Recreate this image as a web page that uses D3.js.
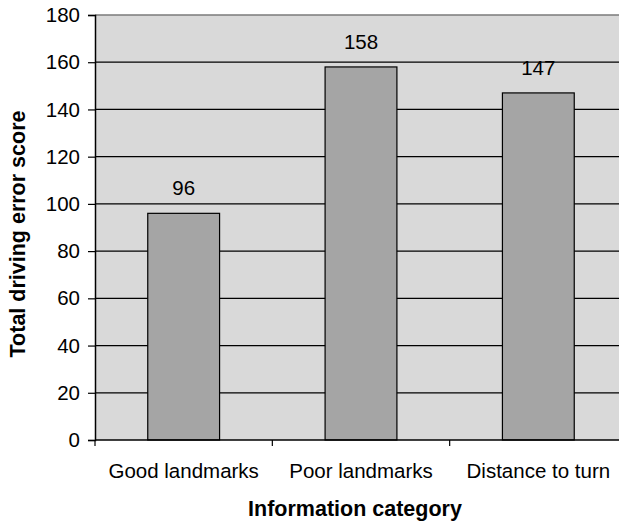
<!DOCTYPE html>
<html>
<head>
<meta charset="utf-8">
<script src="https://cdn.jsdelivr.net/npm/d3@7"></script>
<style>
  body { margin: 0; background: #fff; }
  svg { display: block; font-family: "Liberation Sans", Arial, sans-serif; }
</style>
</head>
<body>
<div id="chart"></div>
<script>
const categories = ["Good landmarks", "Poor landmarks", "Distance to turn"];
const scores = [96, 158, 147];
const yTicks = [0, 20, 40, 60, 80, 100, 120, 140, 160, 180];
const xTitle = "Information category";
const yTitle = "Total driving error score";

const width = 619, height = 525;
const margin = { top: 15, right: -8, bottom: 85, left: 95 };
const plotW = width - margin.left - margin.right;
const plotH = height - margin.top - margin.bottom;
const fs = "20.5px";

const svg = d3.select("#chart")
    .append("svg")
    .attr("width", width)
    .attr("height", height);

const g = svg.append("g")
    .attr("transform", `translate(${margin.left},${margin.top})`);

// slots for each category (tick marks sit on slot borders)
const xSlot = d3.scaleBand()
    .domain(categories)
    .range([0, plotW])
    .padding(0);

const x = d3.scaleBand()
    .domain(categories)
    .range([0, plotW])
    .paddingInner(0.595)
    .paddingOuter(0.2975);

const y = d3.scaleLinear()
    .domain([0, 180])
    .range([plotH, 0]);

// plot background
g.append("rect")
    .attr("x", 0)
    .attr("y", 0)
    .attr("width", plotW)
    .attr("height", plotH)
    .attr("fill", "#d9d9d9");

// gridlines
g.selectAll(".grid")
    .data(yTicks.filter(d => d > 0 && d < 180))
    .enter()
    .append("line")
    .attr("class", "grid")
    .attr("x1", 0)
    .attr("x2", plotW)
    .attr("y1", d => y(d))
    .attr("y2", d => y(d))
    .attr("stroke", "#000")
    .attr("stroke-width", 1.2);

// top border
g.append("line")
    .attr("x1", 0)
    .attr("x2", plotW)
    .attr("y1", y(180))
    .attr("y2", y(180))
    .attr("stroke", "#7a7a7a")
    .attr("stroke-width", 1.5);

// bars
g.selectAll(".bar")
    .data(categories)
    .enter()
    .append("rect")
    .attr("class", "bar")
    .attr("x", d => x(d))
    .attr("y", (d, i) => y(scores[i]))
    .attr("width", x.bandwidth())
    .attr("height", (d, i) => plotH - y(scores[i]))
    .attr("fill", "#a5a5a5")
    .attr("stroke", "#000")
    .attr("stroke-width", 1.2);

// value labels
g.selectAll(".val")
    .data(categories)
    .enter()
    .append("text")
    .attr("class", "val")
    .attr("x", d => x(d) + x.bandwidth() / 2)
    .attr("y", (d, i) => y(scores[i]) - 18)
    .attr("text-anchor", "middle")
    .style("font-size", fs)
    .attr("fill", "#000")
    .text((d, i) => scores[i]);

// y axis
const yAxis = g.append("g")
    .call(d3.axisLeft(y).tickValues(yTicks).tickSize(7).tickPadding(8));
yAxis.attr("font-family", null).attr("font-size", null);
yAxis.select(".domain").attr("stroke", "#000").attr("stroke-width", 1.5);
yAxis.selectAll(".tick line").attr("stroke", "#000").attr("stroke-width", 1.2);
yAxis.selectAll("text").style("font-size", fs).attr("fill", "#000");

// x axis: labels at slot centres, tick marks on slot borders
const xAxis = g.append("g")
    .attr("transform", `translate(0,${plotH})`)
    .call(d3.axisBottom(xSlot).tickSize(0).tickPadding(23));
xAxis.select(".domain").remove();
xAxis.attr("font-family", null).attr("font-size", null);
xAxis.selectAll("text").style("font-size", fs).attr("fill", "#000");

const borders = categories.map(d => xSlot(d)).concat([xSlot.range()[1]]);
g.selectAll(".xtick")
    .data(borders)
    .enter()
    .append("line")
    .attr("class", "xtick")
    .attr("x1", d => d)
    .attr("x2", d => d)
    .attr("y1", plotH)
    .attr("y2", plotH + 6)
    .attr("stroke", "#000")
    .attr("stroke-width", 1.2);

g.append("line")
    .attr("x1", 0)
    .attr("x2", plotW)
    .attr("y1", plotH)
    .attr("y2", plotH)
    .attr("stroke", "#000")
    .attr("stroke-width", 1.5);

// axis titles
svg.append("text")
    .attr("x", 355)
    .attr("y", 516)
    .attr("text-anchor", "middle")
    .style("font-size", "21.5px")
    .style("font-weight", "bold")
    .text(xTitle);

svg.append("text")
    .attr("transform", "translate(25,234) rotate(-90)")
    .attr("text-anchor", "middle")
    .style("font-size", "21.5px")
    .style("font-weight", "bold")
    .text(yTitle);
</script>
</body>
</html>
